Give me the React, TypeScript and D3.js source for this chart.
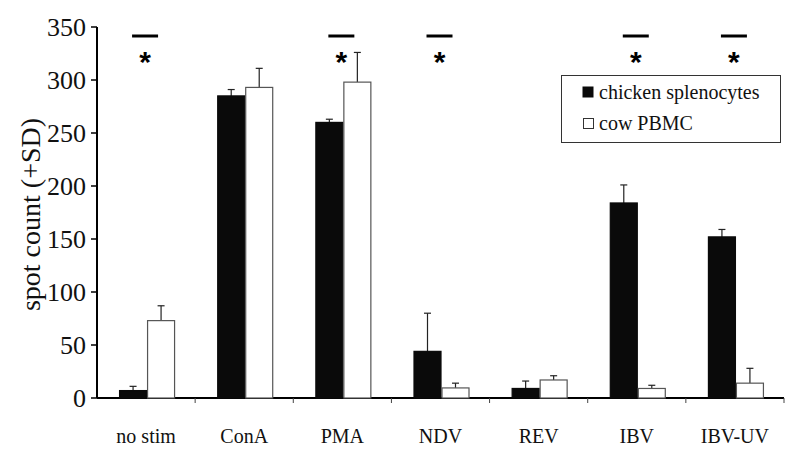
import React from "react";
import * as d3 from "d3";

const categories = ["no stim", "ConA", "PMA", "NDV", "REV", "IBV", "IBV-UV"];
const chickenValues = [7, 285, 260, 44, 9, 184, 152];
const chickenSD = [4, 6, 3, 36, 7, 17, 7];
const cowValues = [73, 293, 298, 9.5, 17, 9, 14];
const cowSD = [14, 18, 28, 4.5, 4, 3, 14];
const significant = ["no stim", "PMA", "NDV", "IBV", "IBV-UV"];
const yTicks = [0, 50, 100, 150, 200, 250, 300, 350];
const seriesNames = ["chicken splenocytes", "cow PBMC"];

const W = 787;
const H = 449;
const FONT = "Liberation Serif, Times New Roman, Times, serif";

export default function App() {
  const x = d3.scaleBand<string>().domain(categories).range([97, 784]).paddingInner(0).paddingOuter(0);
  const y = d3.scaleLinear().domain([0, 350]).range([398, 27]);
  const barW = 28;
  const capW = 7;

  const bars: React.ReactNode[] = [];
  categories.forEach((c, i) => {
    const cx = (x(c) as number) + x.bandwidth() / 2 + 1;
    const series = [
      { v: chickenValues[i], sd: chickenSD[i], fill: "#0a0a0a", stroke: "#0a0a0a", x0: cx - barW },
      { v: cowValues[i], sd: cowSD[i], fill: "#ffffff", stroke: "#555", x0: cx },
    ];
    series.forEach((s, j) => {
      const mid = s.x0 + barW / 2;
      bars.push(
        <g key={`${c}-${j}`}>
          <line x1={mid} x2={mid} y1={y(s.v)} y2={y(s.v + s.sd)} stroke="#222" strokeWidth={1.2} />
          <line x1={mid - capW / 2} x2={mid + capW / 2} y1={y(s.v + s.sd)} y2={y(s.v + s.sd)} stroke="#222" strokeWidth={1.2} />
          <rect x={s.x0 + 0.5} y={y(s.v)} width={barW - 1} height={y(0) - y(s.v)} fill={s.fill} stroke={s.stroke} strokeWidth={1.2} />
        </g>
      );
    });
  });

  return (
    <svg width={W} height={H} style={{ position: "absolute", left: 0, top: 0, background: "#fff", fontFamily: FONT }}>
      {/* y axis */}
      <line x1={97} x2={97} y1={y(350)} y2={y(0)} stroke="#000" strokeWidth={2} />
      {yTicks.map((t) => (
        <g key={t}>
          <line x1={91} x2={97} y1={y(t)} y2={y(t)} stroke="#000" strokeWidth={1.5} />
          <text x={86} y={y(t)} dy="0.35em" textAnchor="end" style={{ fontFamily: FONT }} fontSize={26} fill="#111">
            {t}
          </text>
        </g>
      ))}
      <text
        transform={`translate(30,${(y(0) + y(350)) / 2 + 2}) rotate(-90)`}
        textAnchor="middle"
        dy="0.35em"
        style={{ fontFamily: FONT }}
        fontSize={28}
        fill="#111"
      >
        spot count (+SD)
      </text>
      {/* x axis */}
      <line x1={97} x2={784} y1={y(0)} y2={y(0)} stroke="#000" strokeWidth={2} />
      {categories.map((c) => (
        <line key={c} x1={(x(c) as number) + x.bandwidth()} x2={(x(c) as number) + x.bandwidth()} y1={y(0)} y2={y(0) + 5} stroke="#444" strokeWidth={1} />
      ))}
      {categories.map((c) => (
        <text key={c} x={(x(c) as number) + x.bandwidth() / 2} y={443} textAnchor="middle" style={{ fontFamily: FONT }} fontSize={20} fill="#111">
          {c}
        </text>
      ))}
      {bars}
      {/* significance */}
      {significant.map((c) => {
        const cx = (x(c) as number) + x.bandwidth() / 2 - 1;
        return (
          <g key={c}>
            <line x1={cx - 13} x2={cx + 13} y1={36} y2={36} stroke="#000" strokeWidth={3} />
            <text x={cx} y={72} textAnchor="middle" style={{ fontFamily: "Liberation Sans, Arial, sans-serif" }} fontWeight="bold" fontSize={30} fill="#000">
              *
            </text>
          </g>
        );
      })}
      {/* legend */}
      <rect x={561.5} y={75.5} width={219} height={67} fill="#fff" stroke="#333" strokeWidth={1} />
      <rect x={583} y={87} width={10} height={10} fill="#0a0a0a" stroke="#0a0a0a" />
      <text x={599} y={92} dy="0.35em" style={{ fontFamily: FONT }} fontSize={20} fill="#111">
        {seriesNames[0]}
      </text>
      <rect x={583.5} y={118.5} width={10} height={10} fill="#fff" stroke="#333" />
      <text x={599} y={123} dy="0.35em" style={{ fontFamily: FONT }} fontSize={20} fill="#111">
        {seriesNames[1]}
      </text>
    </svg>
  );
}
